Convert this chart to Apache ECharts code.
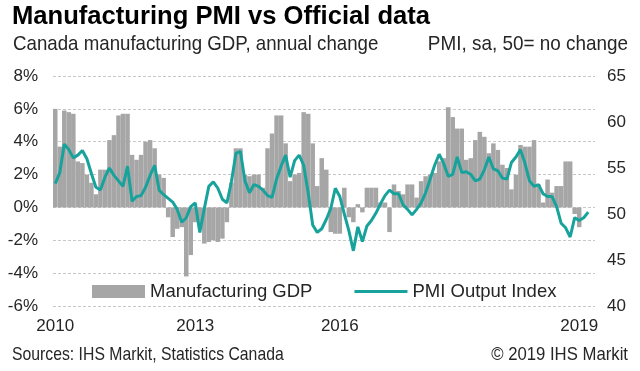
<!DOCTYPE html>
<html>
<head>
<meta charset="utf-8">
<script src="https://cdn.jsdelivr.net/npm/echarts@6/dist/echarts.min.js"></script>
<style>
html,body{margin:0;padding:0;background:#fff;}
#c{width:640px;height:371px;}
</style>
</head>
<body>
<div id="c"></div>
<script>
// Monthly categories Jan 2010 .. Dec 2019
const months = [];
for (let y = 2010; y <= 2019; y++) {
  for (let m = 1; m <= 12; m++) months.push(y + '-' + (m < 10 ? '0' + m : m));
}
// Tick labels and the category they sit under
const tickLabels = ['2010', '2013', '2016', '2019'];
const tickAt = ['2010-01', '2012-08', '2015-04', '2019-09'];

// Canada manufacturing GDP, annual change (%)
const gdp = [
  6.0, 3.7, 5.9, 5.8, 5.7, 2.8, 2.7, 2.0, 1.5, 0.8, 2.3, 2.3,
  4.1, 4.4, 5.6, 5.7, 5.7, 3.2, 2.9, 3.2, 4.0, 4.1, 3.6, 2.0,
  1.8, -0.6, -1.8, -1.3, -1.2, -4.2, -2.9, -0.9, -1.0, -2.2, -2.1, -2.0,
  -2.1, -1.9, -0.9, 1.5, 3.6, 3.6, 2.0, 1.9, 2.0, 2.0, 1.2, 3.6,
  4.5, 5.6, 5.6, 3.9, 1.6, 2.0, 2.1, 5.8, 5.7, 3.9, 1.3, 3.0,
  2.3, -1.5, -1.6, -1.6, 1.2, -0.6, -0.9, 0.2, -0.3, 1.2, 1.2, 1.2,
  0.3, 0.3, -1.5, 1.4, 1.0, 0.8, 1.4, 1.4, 0.6, 1.6, 1.9, 2.0,
  2.1, 2.8, 3.0, 6.1, 5.5, 4.8, 4.8, 2.9, 3.0, 4.1, 4.6, 4.3,
  3.3, 3.9, 3.5, 2.6, 2.4, 1.1, 2.0, 3.8, 3.7, 3.7, 4.1, 1.4,
  0.3, 1.7, 0.9, 1.3, 1.3, 2.8, 2.8, -0.4, -1.2
];
// PMI Output Index (sa, 50 = no change)
const pmi = [
  53.3, 54.5, 57.6, 57.0, 56.1, 56.4, 56.9, 56.0, 54.4, 52.9, 52.6, 54.0,
  55.0, 54.2, 53.6, 53.0, 55.2, 51.4, 51.9, 52.0, 52.9, 54.2, 55.3, 52.6,
  52.1, 51.7, 51.3, 50.5, 49.1, 49.6, 50.8, 51.2, 48.0, 50.6, 53.0, 53.5,
  52.8, 51.6, 51.2, 53.5, 56.6, 56.8, 53.6, 52.3, 53.2, 53.0, 52.6, 52.0,
  51.8, 53.8, 55.2, 56.4, 54.0, 55.8, 56.4, 55.3, 52.3, 48.8, 48.0, 48.4,
  49.4, 50.6, 52.8, 51.9, 50.0, 48.2, 46.0, 48.6, 47.0, 48.7, 49.3, 50.1,
  51.1, 52.0, 52.6, 52.2, 52.2, 51.0, 50.5, 49.9, 50.5, 51.2, 52.3, 53.8,
  55.3, 56.5, 55.5, 54.1, 54.3, 56.2, 54.5, 54.6, 54.3, 53.6, 53.8, 54.8,
  56.2, 54.9, 54.7, 53.9, 53.8, 55.6, 56.2, 57.0, 55.5, 53.6, 53.0, 53.2,
  52.2, 51.9, 51.9, 50.8, 49.0, 48.5, 47.5, 49.6, 49.3, 49.6, 50.2
];

const SANS = "'Liberation Sans', Arial, sans-serif";
const TXT = '#262626';
const TEAL = '#17a29c';

const chart = echarts.init(document.getElementById('c'), null, {renderer: 'canvas'});
chart.setOption({
  animation: false,
  backgroundColor: '#fff',
  grid: {left: 53, right: 45, top: 76, bottom: 65},
  legend: {
    left: 92, top: 282, padding: 0,
    itemWidth: 53, itemHeight: 13, itemGap: 42,
    textStyle: {fontFamily: SANS, fontSize: 18.5, color: TXT},
    data: [
      {name: 'Manufacturing GDP', icon: 'rect'},
      {name: 'PMI Output Index', icon: 'path://M0,0L53,0L53,3L0,3Z'}
    ]
  },
  xAxis: {
    type: 'category',
    data: months,
    axisLine: {show: false},
    axisTick: {show: false},
    axisLabel: {
      interval: (idx, val) => tickAt.indexOf(val) >= 0,
      formatter: (val) => tickLabels[tickAt.indexOf(val)],
      fontFamily: SANS, fontSize: 17, color: TXT, margin: 12
    }
  },
  yAxis: [
    {
      type: 'value', min: -6, max: 8, interval: 2,
      axisLine: {show: false}, axisTick: {show: false},
      axisLabel: {formatter: '{value}%', fontFamily: SANS, fontSize: 17, color: TXT, margin: 15},
      splitLine: {show: true, lineStyle: {color: '#c8c8c8', type: [3, 2], width: 1}}
    },
    {
      type: 'value', min: 40, max: 65, interval: 5,
      axisLine: {show: false}, axisTick: {show: false},
      axisLabel: {fontFamily: SANS, fontSize: 17, color: TXT, margin: 12},
      splitLine: {show: false}
    }
  ],
  series: [
    {
      name: 'Manufacturing GDP', type: 'bar', yAxisIndex: 0,
      data: gdp, barCategoryGap: 0,
      itemStyle: {color: '#a6a6a6'}, z: 2
    },
    {
      name: 'PMI Output Index', type: 'line', yAxisIndex: 1,
      data: pmi, symbol: 'none',
      lineStyle: {color: TEAL, width: 3},
      itemStyle: {color: TEAL}, z: 3
    }
  ],
  graphic: [
    {type: 'text', x: 12, y: 17,
     style: {text: 'Manufacturing PMI vs Official data', font: "bold 25.6px " + SANS, fill: '#000',
             textAlign: 'left', textVerticalAlign: 'middle'}},
    {type: 'text', x: 13, y: 44, scaleX: 0.89,
     style: {text: 'Canada manufacturing GDP, annual change', font: "21px " + SANS, fill: TXT,
             textAlign: 'left', textVerticalAlign: 'middle'}},
    {type: 'text', x: 628, y: 44, scaleX: 0.9,
     style: {text: 'PMI, sa, 50= no change', font: "21px " + SANS, fill: TXT,
             textAlign: 'right', textVerticalAlign: 'middle'}},
    {type: 'text', x: 12, y: 355, scaleX: 0.83,
     style: {text: 'Sources: IHS Markit, Statistics Canada', font: "19px " + SANS, fill: TXT,
             textAlign: 'left', textVerticalAlign: 'middle'}},
    {type: 'text', x: 628, y: 355, scaleX: 0.88,
     style: {text: '© 2019 IHS Markit', font: "19px " + SANS, fill: TXT,
             textAlign: 'right', textVerticalAlign: 'middle'}}
  ]
});
</script>
</body>
</html>
